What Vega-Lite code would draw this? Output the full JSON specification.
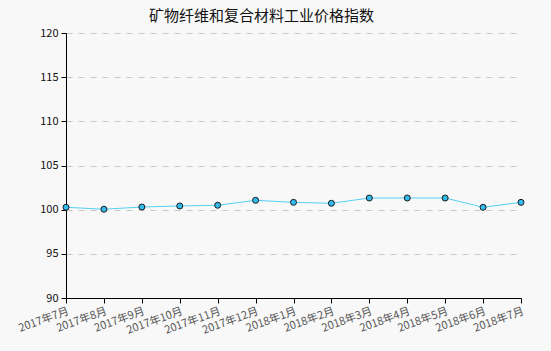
{
  "$schema": "https://vega.github.io/schema/vega-lite/v6.json",
  "width": 455,
  "height": 265,
  "autosize": "none",
  "padding": {"left": 66, "top": 33, "right": 30, "bottom": 53},
  "background": "#f8f8f8",
  "title": {
    "text": "矿物纤维和复合材料工业价格指数",
    "font": "Noto Sans CJK SC",
    "fontSize": 15,
    "fontWeight": "normal",
    "color": "#111111",
    "anchor": "middle",
    "offset": 3,
    "dx": -32
  },
  "data": {
    "values": [
      {"month": "2017年7月", "value": 100.27},
      {"month": "2017年8月", "value": 100.05},
      {"month": "2017年9月", "value": 100.3},
      {"month": "2017年10月", "value": 100.42},
      {"month": "2017年11月", "value": 100.5},
      {"month": "2017年12月", "value": 101.06},
      {"month": "2018年1月", "value": 100.83},
      {"month": "2018年2月", "value": 100.72},
      {"month": "2018年3月", "value": 101.32},
      {"month": "2018年4月", "value": 101.32},
      {"month": "2018年5月", "value": 101.32},
      {"month": "2018年6月", "value": 100.27},
      {"month": "2018年7月", "value": 100.83}
    ]
  },
  "config": {
    "view": {"stroke": null},
    "axis": {
      "domainColor": "#000000",
      "tickColor": "#000000",
      "labelFont": "Noto Sans CJK SC",
      "labelFontSize": 11,
      "titleFont": "Noto Sans CJK SC"
    }
  },
  "encoding": {
    "x": {
      "field": "month",
      "type": "ordinal",
      "sort": null,
      "scale": {"type": "point", "padding": 0},
      "axis": {
        "title": null,
        "labelAngle": -20,
        "labelAlign": "right",
        "labelBaseline": "top",
        "labelColor": "#555555",
        "tickSize": 5,
        "labelPadding": 2,
        "grid": false
      }
    },
    "y": {
      "field": "value",
      "type": "quantitative",
      "scale": {"domain": [90, 120], "nice": false, "zero": false},
      "axis": {
        "title": null,
        "values": [90, 95, 100, 105, 110, 115, 120],
        "tickSize": 5,
        "labelColor": "#111111",
        "labelPadding": 3,
        "grid": true,
        "gridColor": "#c8c8c8",
        "gridDash": [6, 6]
      }
    }
  },
  "layer": [
    {
      "mark": {"type": "line", "color": "#55d0f5", "strokeWidth": 1}
    },
    {
      "mark": {
        "type": "point",
        "filled": true,
        "size": 36,
        "fill": "#33bbee",
        "stroke": "#1a1a1a",
        "strokeWidth": 1,
        "opacity": 1
      }
    }
  ]
}
